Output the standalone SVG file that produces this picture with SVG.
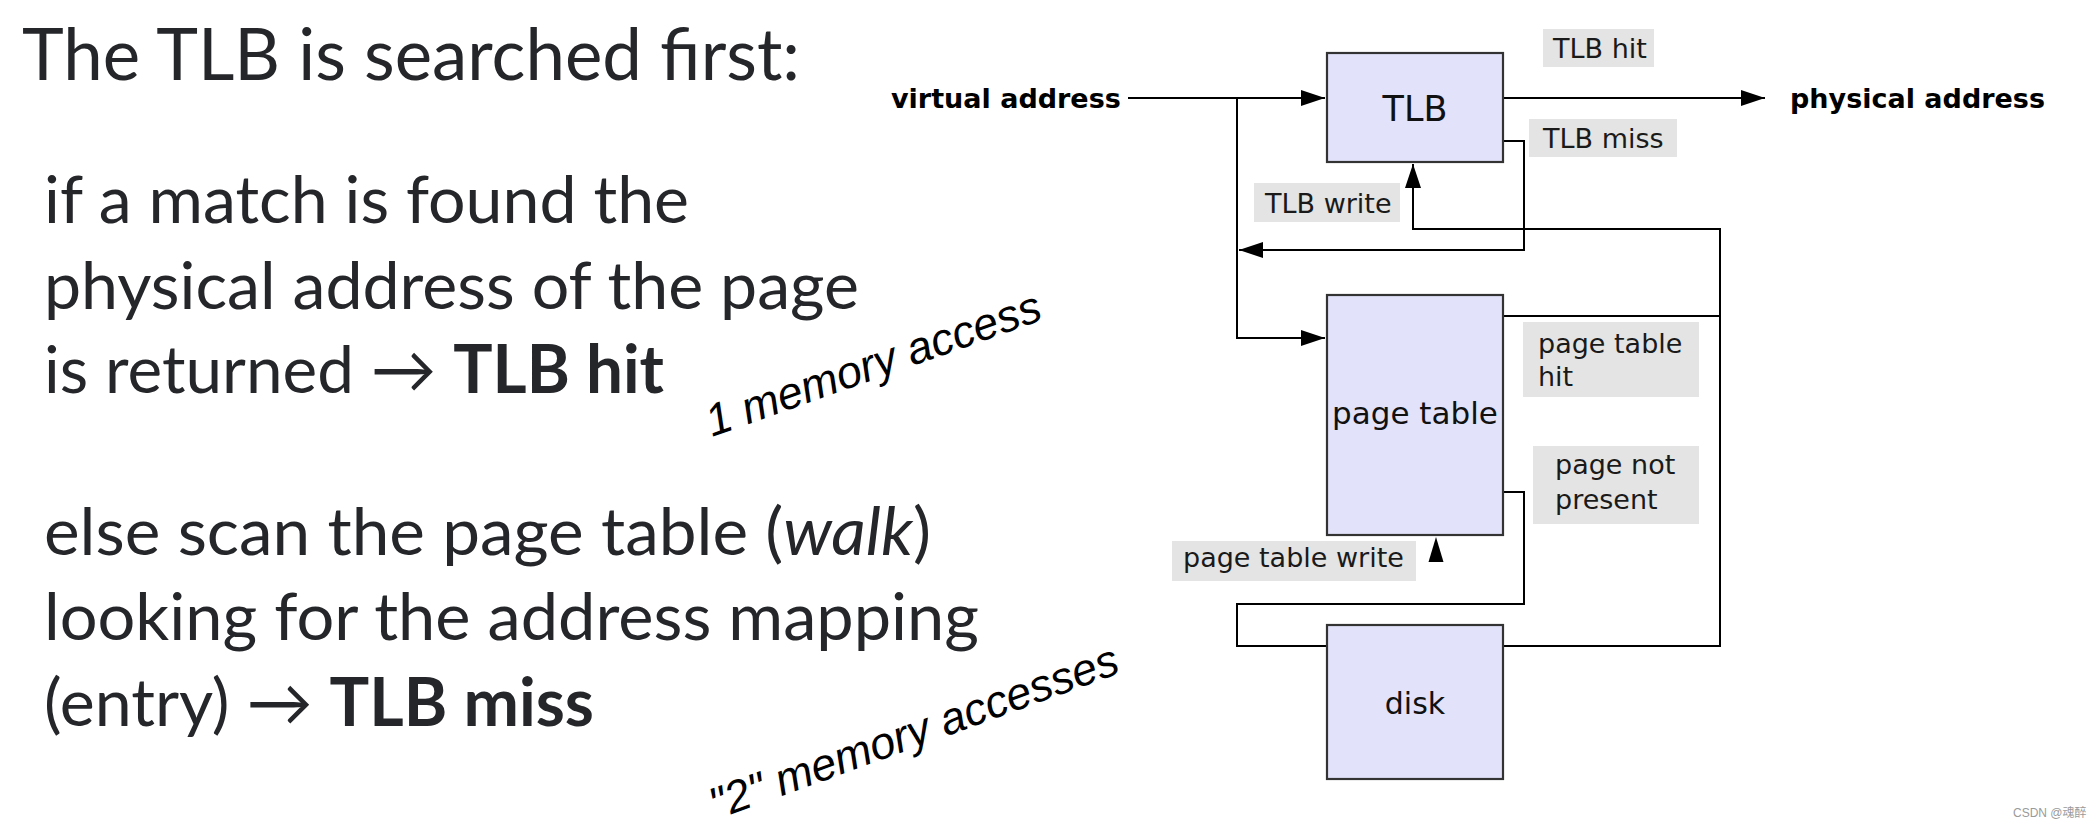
<svg xmlns="http://www.w3.org/2000/svg" width="2096" height="830" viewBox="0 0 2096 830">
<style>
.slide{font-family:Lato,"Open Sans","Liberation Sans",sans-serif;fill:#24262a;}
.title{font-size:72px;}
.body{font-size:66px;}
.b{font-weight:bold;}
.it{font-style:italic;}
.note{font-family:"Liberation Sans",Arial,sans-serif;font-style:italic;font-size:45px;fill:#000;}
.box{fill:#e2e2fa;stroke:#333;stroke-width:2.2;}
.boxtxt{font-family:"DejaVu Sans",sans-serif;fill:#111;text-anchor:middle;}
.lbl{fill:#e4e4e4;}
.lbltxt{font-family:"DejaVu Sans",sans-serif;font-size:27px;fill:#1a1a1a;}
.io{font-family:"DejaVu Sans",sans-serif;font-size:27px;font-weight:bold;fill:#000;}
.wire{fill:none;stroke:#000;stroke-width:2;}
.wm{font-family:"Liberation Sans","Noto Sans CJK SC",sans-serif;font-size:12px;fill:#9a9a9a;}
</style>
<defs>
<marker id="arr" viewBox="0 0 24 16" refX="24" refY="8" markerWidth="24" markerHeight="16" markerUnits="userSpaceOnUse" orient="auto">
<path d="M0,0 L24,8 L0,16 Z" fill="#000"/>
</marker>
</defs>
<rect width="2096" height="830" fill="#fff"/>

<g id="slide-text">
<text class="slide title" x="22" y="80" textLength="778" lengthAdjust="spacingAndGlyphs">The TLB is searched first:</text>
<text class="slide body" x="44" y="223" textLength="645" lengthAdjust="spacingAndGlyphs">if a match is found the</text>
<text class="slide body" x="44" y="309" textLength="815" lengthAdjust="spacingAndGlyphs">physical address of the page</text>
<text class="slide body" x="44" y="393" textLength="620" lengthAdjust="spacingAndGlyphs">is returned → <tspan class="b">TLB hit</tspan></text>
<text class="slide body" x="44" y="555" textLength="887" lengthAdjust="spacingAndGlyphs">else scan the page table (<tspan class="it">walk</tspan>)</text>
<text class="slide body" x="44" y="640" textLength="935" lengthAdjust="spacingAndGlyphs">looking for the address mapping</text>
<text class="slide body" x="44" y="726" textLength="550" lengthAdjust="spacingAndGlyphs">(entry) → <tspan class="b">TLB miss</tspan></text>
<text class="note" transform="translate(712,437) rotate(-19.5)">1 memory access</text>
<text class="note" transform="translate(716,820) rotate(-20)" font-size="46">"2" memory accesses</text>
</g>

<g id="connectors">
<path class="wire" d="M1128,98 H1325" marker-end="url(#arr)"/>
<path class="wire" d="M1237,98 V338 H1325" marker-end="url(#arr)"/>
<path class="wire" d="M1503,98 H1765" marker-end="url(#arr)"/>
<path class="wire" d="M1503,141 H1524 V250 H1239" marker-end="url(#arr)"/>
<path class="wire" d="M1503,646 H1720 V229 H1413 V164" marker-end="url(#arr)"/>
<path class="wire" d="M1503,316 H1720"/>
<path class="wire" d="M1503,492 H1524 V604 H1237 V646 H1327"/>
<path d="M1436,537 L1443.5,562 L1428.5,562 Z" fill="#000"/>
</g>

<g id="tlb">
<rect class="box" x="1327" y="53" width="176" height="109"/>
<text class="boxtxt" x="1415" y="121" font-size="35">TLB</text>
</g>
<g id="page-table">
<rect class="box" x="1327" y="295" width="176" height="240"/>
<text class="boxtxt" x="1415" y="424" font-size="31">page table</text>
</g>
<g id="disk">
<rect class="box" x="1327" y="625" width="176" height="154"/>
<text class="boxtxt" x="1415" y="714" font-size="30">disk</text>
</g>

<g id="virtual-address"><text class="io" x="891" y="108">virtual address</text></g>
<g id="physical-address"><text class="io" x="1790" y="108">physical address</text></g>

<g id="label-tlb-hit">
<rect class="lbl" x="1543" y="29" width="111" height="38"/>
<text class="lbltxt" x="1553" y="58">TLB hit</text>
</g>
<g id="label-tlb-miss">
<rect class="lbl" x="1529" y="119" width="148" height="38"/>
<text class="lbltxt" x="1543" y="148">TLB miss</text>
</g>
<g id="label-tlb-write">
<rect class="lbl" x="1254" y="183" width="146" height="39"/>
<text class="lbltxt" x="1265" y="213">TLB write</text>
</g>
<g id="label-pt-hit">
<rect class="lbl" x="1523" y="322" width="176" height="75"/>
<text class="lbltxt" x="1538" y="353">page table</text>
<text class="lbltxt" x="1538" y="386">hit</text>
</g>
<g id="label-not-present">
<rect class="lbl" x="1533" y="446" width="166" height="78"/>
<text class="lbltxt" x="1555" y="474">page not</text>
<text class="lbltxt" x="1555" y="509">present</text>
</g>
<g id="label-pt-write">
<rect class="lbl" x="1172" y="541" width="244" height="40"/>
<text class="lbltxt" x="1183" y="567">page table write</text>
</g>

<text class="wm" x="2013" y="817">CSDN @魂醉</text>
</svg>
